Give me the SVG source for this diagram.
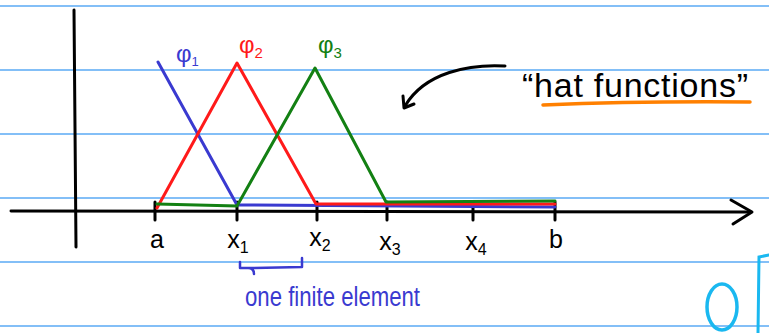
<svg xmlns="http://www.w3.org/2000/svg" width="769" height="333" viewBox="0 0 769 333">
<style>
.rule{stroke:#5aaaf5;stroke-width:1.6}
.ink{fill:none;stroke:#000;stroke-width:3;stroke-linecap:round;stroke-linejoin:round}
.hat{fill:none;stroke-width:3;stroke-linejoin:round;stroke-linecap:round}
.lbl{font-family:"Liberation Sans",sans-serif;font-size:25px;fill:#000}
.hand{font-family:"Liberation Sans",sans-serif}
</style>
<rect width="769" height="333" fill="#fff"/>
<g id="rules">
<line class="rule" x1="0" y1="6" x2="769" y2="6"/>
<line class="rule" x1="0" y1="70" x2="769" y2="70"/>
<line class="rule" x1="0" y1="134" x2="769" y2="134"/>
<line class="rule" x1="0" y1="198" x2="769" y2="198"/>
<line class="rule" x1="0" y1="262" x2="769" y2="262"/>
<line class="rule" x1="0" y1="326" x2="769" y2="326"/>
</g>
<g id="axes">
<path class="ink" d="M74 10 L76 247"/>
<path class="ink" d="M11 211 L750 212"/>
<path class="ink" d="M731 200 L752 212 L733 224"/>
<g id="ticks">
<path class="ink" d="M155 202 V220"/>
<path class="ink" d="M237 202 V220"/>
<path class="ink" d="M317 202 V220"/>
<path class="ink" d="M387 202 V220"/>
<path class="ink" d="M473 202 V220"/>
<path class="ink" d="M555 202 V220"/>
</g>
</g>
<g id="tick-labels" class="lbl">
<text x="157" y="248" text-anchor="middle">a</text>
<text x="238" y="248" text-anchor="middle">x<tspan font-size="16" dy="5">1</tspan></text>
<text x="320" y="246" text-anchor="middle">x<tspan font-size="16" dy="5">2</tspan></text>
<text x="390" y="250" text-anchor="middle">x<tspan font-size="16" dy="5">3</tspan></text>
<text x="476" y="250" text-anchor="middle">x<tspan font-size="16" dy="5">4</tspan></text>
<text x="556" y="248" text-anchor="middle">b</text>
</g>
<g id="connectors">
<path class="hat" stroke="#3a3ad0" d="M158 62 L237 205 L555 207"/>
<path class="hat" stroke="#ff1a1a" d="M157 208 L237 63 L316 204 L555 204"/>
<path class="hat" stroke="#138013" d="M157 204 L237 206 L315 68 L386 202 L555 201"/>
<path class="ink" d="M505 66 C470 64 425 72 405 106"/>
<path class="ink" d="M403 96 L404 108 L414 104"/>
</g>
<g id="phi-labels" class="hand" font-size="24">
<text x="176" y="62" fill="#3a3ad0">φ<tspan font-size="13" dy="4">1</tspan></text>
<text x="239" y="53" fill="#ff1a1a">φ<tspan font-size="15" dy="5">2</tspan></text>
<text x="318" y="53" fill="#138013">φ<tspan font-size="15" dy="5">3</tspan></text>
</g>
<g id="hat-functions">
<text x="522" y="97" class="hand" font-size="34" fill="#000" textLength="226">“hat functions”</text>
<path d="M543 105 Q640 101 750 102" fill="none" stroke="#ff8000" stroke-width="3.5" stroke-linecap="round"/>
</g>
<g id="element">
<path d="M240 262 V268 L256 268 M248 268 Q254 268 254 274 M254 268 L302 267 V258" fill="none" stroke="#3a3ad0" stroke-width="2.5" stroke-linecap="round" stroke-linejoin="round"/>
<text x="245" y="306" class="hand" font-size="27" fill="#3a3ad0" textLength="175" lengthAdjust="spacingAndGlyphs">one finite element</text>
</g>
<g id="corner">
<ellipse cx="722" cy="307" rx="15" ry="23" fill="none" stroke="#1ab8f0" stroke-width="3.5"/>
<path d="M758 333 L759 257 L769 255" fill="none" stroke="#1ab8f0" stroke-width="3" stroke-linecap="round"/>
</g>
</svg>
